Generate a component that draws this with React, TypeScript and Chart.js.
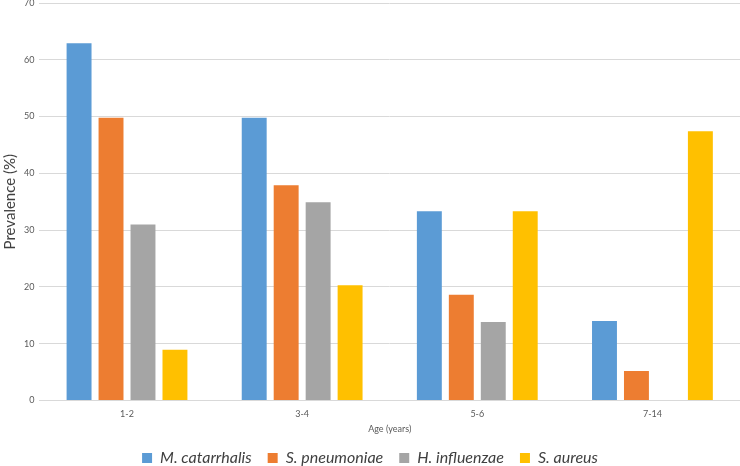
import React, { useEffect, useRef } from "react";
import { Chart, registerables } from "chart.js";

Chart.register(...registerables);

const categories = ["1-2", "3-4", "5-6", "7-14"];
const seriesNames = ["M. catarrhalis", "S. pneumoniae", "H. influenzae", "S. aureus"];
const mCatarrhalis = [62.9, 49.8, 33.3, 14.0];
const sPneumoniae = [49.8, 37.9, 18.6, 5.2];
const hInfluenzae = [31.0, 34.9, 13.8, 0];
const sAureus = [8.9, 20.3, 33.3, 47.4];
const colors = ["#5B9BD5", "#ED7D31", "#A5A5A5", "#FFC000"];

export default function App() {
  const ref = useRef<HTMLCanvasElement | null>(null);
  useEffect(() => {
    if (!ref.current) return;
    const values = [mCatarrhalis, sPneumoniae, hInfluenzae, sAureus];
    const chart = new Chart(ref.current, {
      type: "bar",
      data: {
        labels: categories,
        datasets: seriesNames.map((name, i) => ({
          label: name,
          data: values[i],
          backgroundColor: colors[i],
          borderWidth: 0,
          barPercentage: 0.78,
          categoryPercentage: 0.73,
        })),
      },
      options: {
        animation: false,
        responsive: false,
        maintainAspectRatio: false,
        layout: { padding: { left: 0, right: 0, top: 3, bottom: -10 } },
        plugins: {
          tooltip: { enabled: false },
          legend: {
            position: "bottom",
            labels: {
              boxWidth: 10,
              boxHeight: 10,
              padding: 16,
              color: "#404040",
              font: { family: "Lato", size: 16, style: "italic" },
            },
          },
        },
        scales: {
          x: {
            grid: { display: false, drawTicks: false },
            border: { display: true, color: "#d9d9d9", width: 1 },
            ticks: { color: "#595959", font: { family: "Lato", size: 9 }, padding: 8 },
            title: {
              display: true,
              text: "Age (years)",
              color: "#595959",
              font: { family: "Lato", size: 9 },
              padding: { top: -4, bottom: 0 },
            },
          },
          y: {
            min: 0,
            max: 70,
            afterFit: (scale: any) => {
              scale.paddingTop = 0;
              scale.paddingBottom = 0;
            },
            ticks: { stepSize: 10, color: "#595959", font: { family: "Lato", size: 9 }, padding: 5 },
            grid: { color: "#d9d9d9", drawTicks: false },
            border: { display: false },
            title: {
              display: true,
              text: "Prevalence (%)",
              color: "#404040",
              font: { family: "Lato", size: 15 },
              padding: { top: 1, bottom: 0 },
            },
          },
        },
      },
    });
    return () => chart.destroy();
  }, []);
  return (
    <div style={{ position: "fixed", left: 0, top: 0, width: 740, height: 466, background: "#fff" }}>
      <canvas ref={ref} width={740} height={466} />
    </div>
  );
}
